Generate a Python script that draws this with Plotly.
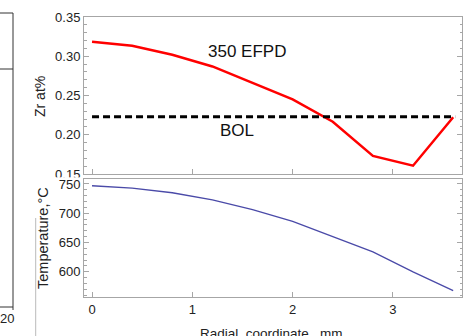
import plotly.graph_objects as go

W, H = 472, 336

# ---- data ----
radius_mm = [0, 0.4, 0.8, 1.2, 1.6, 2.0, 2.4, 2.8, 3.2, 3.6]
zr_350efpd = [0.3185, 0.3134, 0.302, 0.287, 0.266, 0.245, 0.2166, 0.173, 0.1606, 0.2222]
bol_x = [0, 3.62]
zr_bol = [0.223, 0.223]
temperature_c = [747, 743, 735, 723, 706, 686, 660, 634, 600, 568]

x_ticks = [0, 1, 2, 3]
zr_ticks = [0.15, 0.20, 0.25, 0.30, 0.35]
temp_ticks = [600, 650, 700, 750]


def px(x):
    return x / W


def py(y):
    return 1 - y / H


FONT = "Liberation Sans, Arial, sans-serif"
FRAME = "#a6a6a6"

fig = go.Figure()
fig.add_trace(go.Scatter(x=radius_mm, y=zr_350efpd, mode="lines",
                         line=dict(color="#ff0000", width=2.5),
                         xaxis="x2", yaxis="y2", showlegend=False))
fig.add_trace(go.Scatter(x=bol_x, y=zr_bol, mode="lines",
                         line=dict(color="#000000", width=3, dash="7px,4px"),
                         xaxis="x2", yaxis="y2", showlegend=False))
fig.add_trace(go.Scatter(x=radius_mm, y=temperature_c, mode="lines",
                         line=dict(color="#4a4aa8", width=1.3),
                         xaxis="x", yaxis="y", showlegend=False))

xdom = [px(84), px(462)]
xr = [-0.08, 3.688]
common_x = dict(range=xr, domain=xdom, showgrid=False, zeroline=False, automargin=False,
                showline=True, linecolor=FRAME, linewidth=1, mirror=True,
                ticks="inside", ticklen=5, tickcolor=FRAME,
                tickvals=x_ticks, tickfont=dict(family=FONT, size=13, color="#222"))
common_y = dict(showgrid=False, zeroline=False, showline=True, linecolor=FRAME,
                automargin=False,
                linewidth=1, mirror="allticks", ticks="inside", ticklen=5,
                tickcolor=FRAME, tickfont=dict(family=FONT, size=13, color="#222"))

fig.update_layout(
    width=W, height=H, margin=dict(l=0, r=0, t=0, b=0, pad=0),
    paper_bgcolor="white", plot_bgcolor="white",
    xaxis=dict(**common_x, anchor="y", ticktext=[str(v) for v in x_ticks]),
    xaxis2=dict(**common_x, anchor="y2", matches="x", showticklabels=False),
    yaxis=dict(**common_y, anchor="x", domain=[py(297), py(179)], range=[557, 758.5],
               tickvals=temp_ticks,
               minor=dict(dtick=10, ticks="inside", ticklen=2.5, tickcolor=FRAME)),
    yaxis2=dict(**common_y, anchor="x2", domain=[py(174), py(17)], range=[0.15, 0.35],
                tickvals=zr_ticks, tickformat=".2f",
                minor=dict(dtick=0.01, ticks="inside", ticklen=2.5, tickcolor=FRAME)),
)


def note(text, x, y, size, angle=0, xref="paper", yref="paper", color="#222"):
    return dict(text=text, x=x, y=y, xref=xref, yref=yref, showarrow=False,
                xanchor="center", yanchor="middle", textangle=angle,
                font=dict(family=FONT, size=size, color=color))


ann = [
    note("350 EFPD", 1.54, 0.3058, 17, xref="x2", yref="y2", color="#111"),
    note("BOL", 1.45, 0.2048, 17, xref="x2", yref="y2", color="#111"),
    note("Zr at%", px(40), py(97), 14, angle=-90),
    note("Temperature,°C", px(43), py(238), 14.5, angle=-90),
    note("Radial  coordinate , mm", px(271), py(333), 13.5),
    note("20", px(7), py(318), 13),
]
fig.update_layout(annotations=ann)

shapes = [
    # fragment of neighbouring figure
    dict(type="line", xref="paper", yref="paper", x0=px(13), x1=px(13), y0=py(13), y1=py(310),
         line=dict(color="#333", width=1)),
    dict(type="line", xref="paper", yref="paper", x0=0, x1=px(13), y0=py(13), y1=py(13),
         line=dict(color="#333", width=1)),
    dict(type="line", xref="paper", yref="paper", x0=0, x1=px(13), y0=py(69), y1=py(69),
         line=dict(color="#333", width=1)),
    dict(type="line", xref="paper", yref="paper", x0=0, x1=px(13), y0=py(307), y1=py(307),
         line=dict(color="#333", width=1)),
    dict(type="line", xref="paper", yref="paper", x0=px(35.7), x1=px(35.7), y0=py(218), y1=0,
         line=dict(color="#bbbbbb", width=1)),
    # lower panel overlaps the bottom of the "0.15" label
    dict(type="rect", xref="paper", yref="paper", layer="above",
         x0=px(55), x1=px(83), y0=py(179.5), y1=py(177.3),
         line=dict(width=0), fillcolor="white"),
]
fig.update_layout(shapes=shapes)

fig.write_html("out.html", post_script="document.body.style.margin='0';",
               config={"displayModeBar": False})
